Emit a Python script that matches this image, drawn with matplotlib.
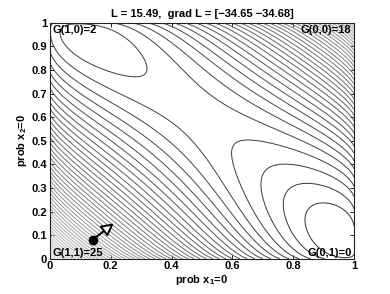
import numpy as np
import matplotlib
matplotlib.use("Agg")
import matplotlib.pyplot as plt
from matplotlib.patches import FancyArrowPatch

# ---- data ----
G_x1 = [0, 0, 1, 1]          # value of x1
G_x2 = [0, 1, 0, 1]          # value of x2
G_val = [18, 0, 2, 25]       # G(x1, x2)
temperature = 7.0            # weight of the entropy term
point = [0.14, 0.08]         # current (prob x1=0, prob x2=0)
L_value = 15.49
grad_L = [-34.65, -34.68]
n_levels = 50
xticks = [0, 0.2, 0.4, 0.6, 0.8, 1]
yticks = [0, 0.1, 0.2, 0.3, 0.4, 0.5, 0.6, 0.7, 0.8, 0.9, 1]

plt.rcParams['font.family'] = ['Liberation Sans', 'DejaVu Sans']
plt.rcParams['mathtext.fontset'] = 'custom'
plt.rcParams['mathtext.rm'] = 'Liberation Sans:bold'
plt.rcParams['mathtext.bf'] = 'Liberation Sans:bold'
plt.rcParams['mathtext.it'] = 'Liberation Sans:bold'

FS = 8


def xlogx(v):
    out = np.zeros_like(v)
    m = v > 0
    out[m] = v[m] * np.log(v[m])
    return out


p1 = np.linspace(0, 1, 301)
p2 = np.linspace(0, 1, 301)
P1, P2 = np.meshgrid(p1, p2)
Z = np.zeros_like(P1)
for a, b, g in zip(G_x1, G_x2, G_val):
    q1 = P1 if a == 0 else 1 - P1
    q2 = P2 if b == 0 else 1 - P2
    Z += q1 * q2 * g
Z += temperature * (xlogx(P1) + xlogx(1 - P1) + xlogx(P2) + xlogx(1 - P2))

fig = plt.figure(figsize=(3.9, 2.94), dpi=100)
ax = fig.add_axes([50 / 390, 35.3 / 294, 304 / 390, 236 / 294])

levels = np.linspace(Z.min(), Z.max(), n_levels + 2)[1:-1]
cmap = matplotlib.colors.LinearSegmentedColormap.from_list('g', [(0.2, 0.2, 0.2), (0.86, 0.86, 0.86)])
ax.contour(P1, P2, Z, levels=levels, cmap=cmap, linewidths=0.7)

# corner labels
for a, b, g in zip(G_x1, G_x2, G_val):
    px = 1 - a
    py = 1 - b
    ax.text(0.008 if px == 0 else 0.992, 0.99 if py == 1 else 0.004,
            f'G({a},{b})={g}', ha='left' if px == 0 else 'right',
            va='top' if py == 1 else 'bottom', fontsize=FS, fontweight='bold',
            transform=ax.transAxes)

# point and descent arrow
ax.plot([point[0]], [point[1]], 'o', color='black', ms=6, zorder=5)
scale = 0.002
end = [point[0] - scale * grad_L[0], point[1] - scale * grad_L[1]]
arr = FancyArrowPatch((point[0], point[1]), (end[0], end[1]),
                      arrowstyle='-|>,head_length=4.5,head_width=2.4',
                      mutation_scale=1.6, lw=1.4, ec='black', fc='white',
                      shrinkA=0, shrinkB=0, zorder=6)
ax.add_patch(arr)

ax.set_xlim(0, 1)
ax.set_ylim(0, 1)
ax.set_xticks(xticks)
ax.set_yticks(yticks)
ax.set_xticklabels([f'{t:g}' for t in xticks], fontsize=FS, fontweight='bold')
ax.set_yticklabels([f'{t:g}' for t in yticks], fontsize=FS, fontweight='bold')
ax.tick_params(direction='in', length=3, width=0.6, top=True, right=True, pad=2)
for s in ax.spines.values():
    s.set_linewidth(0.8)
    s.set_color('#222222')

ax.set_xlabel(r'prob x$_{1}$=0', fontsize=FS, fontweight='bold', labelpad=1)
ax.set_ylabel(r'prob x$_{2}$=0', fontsize=FS, fontweight='bold', labelpad=2)
title = f'L = {L_value:.2f},  grad L = [{grad_L[0]:.2f} {grad_L[1]:.2f}]'.replace('-', '\u2212')
ax.set_title(title, fontsize=FS, fontweight='bold', pad=4)

fig.savefig('out.png', dpi=100)
